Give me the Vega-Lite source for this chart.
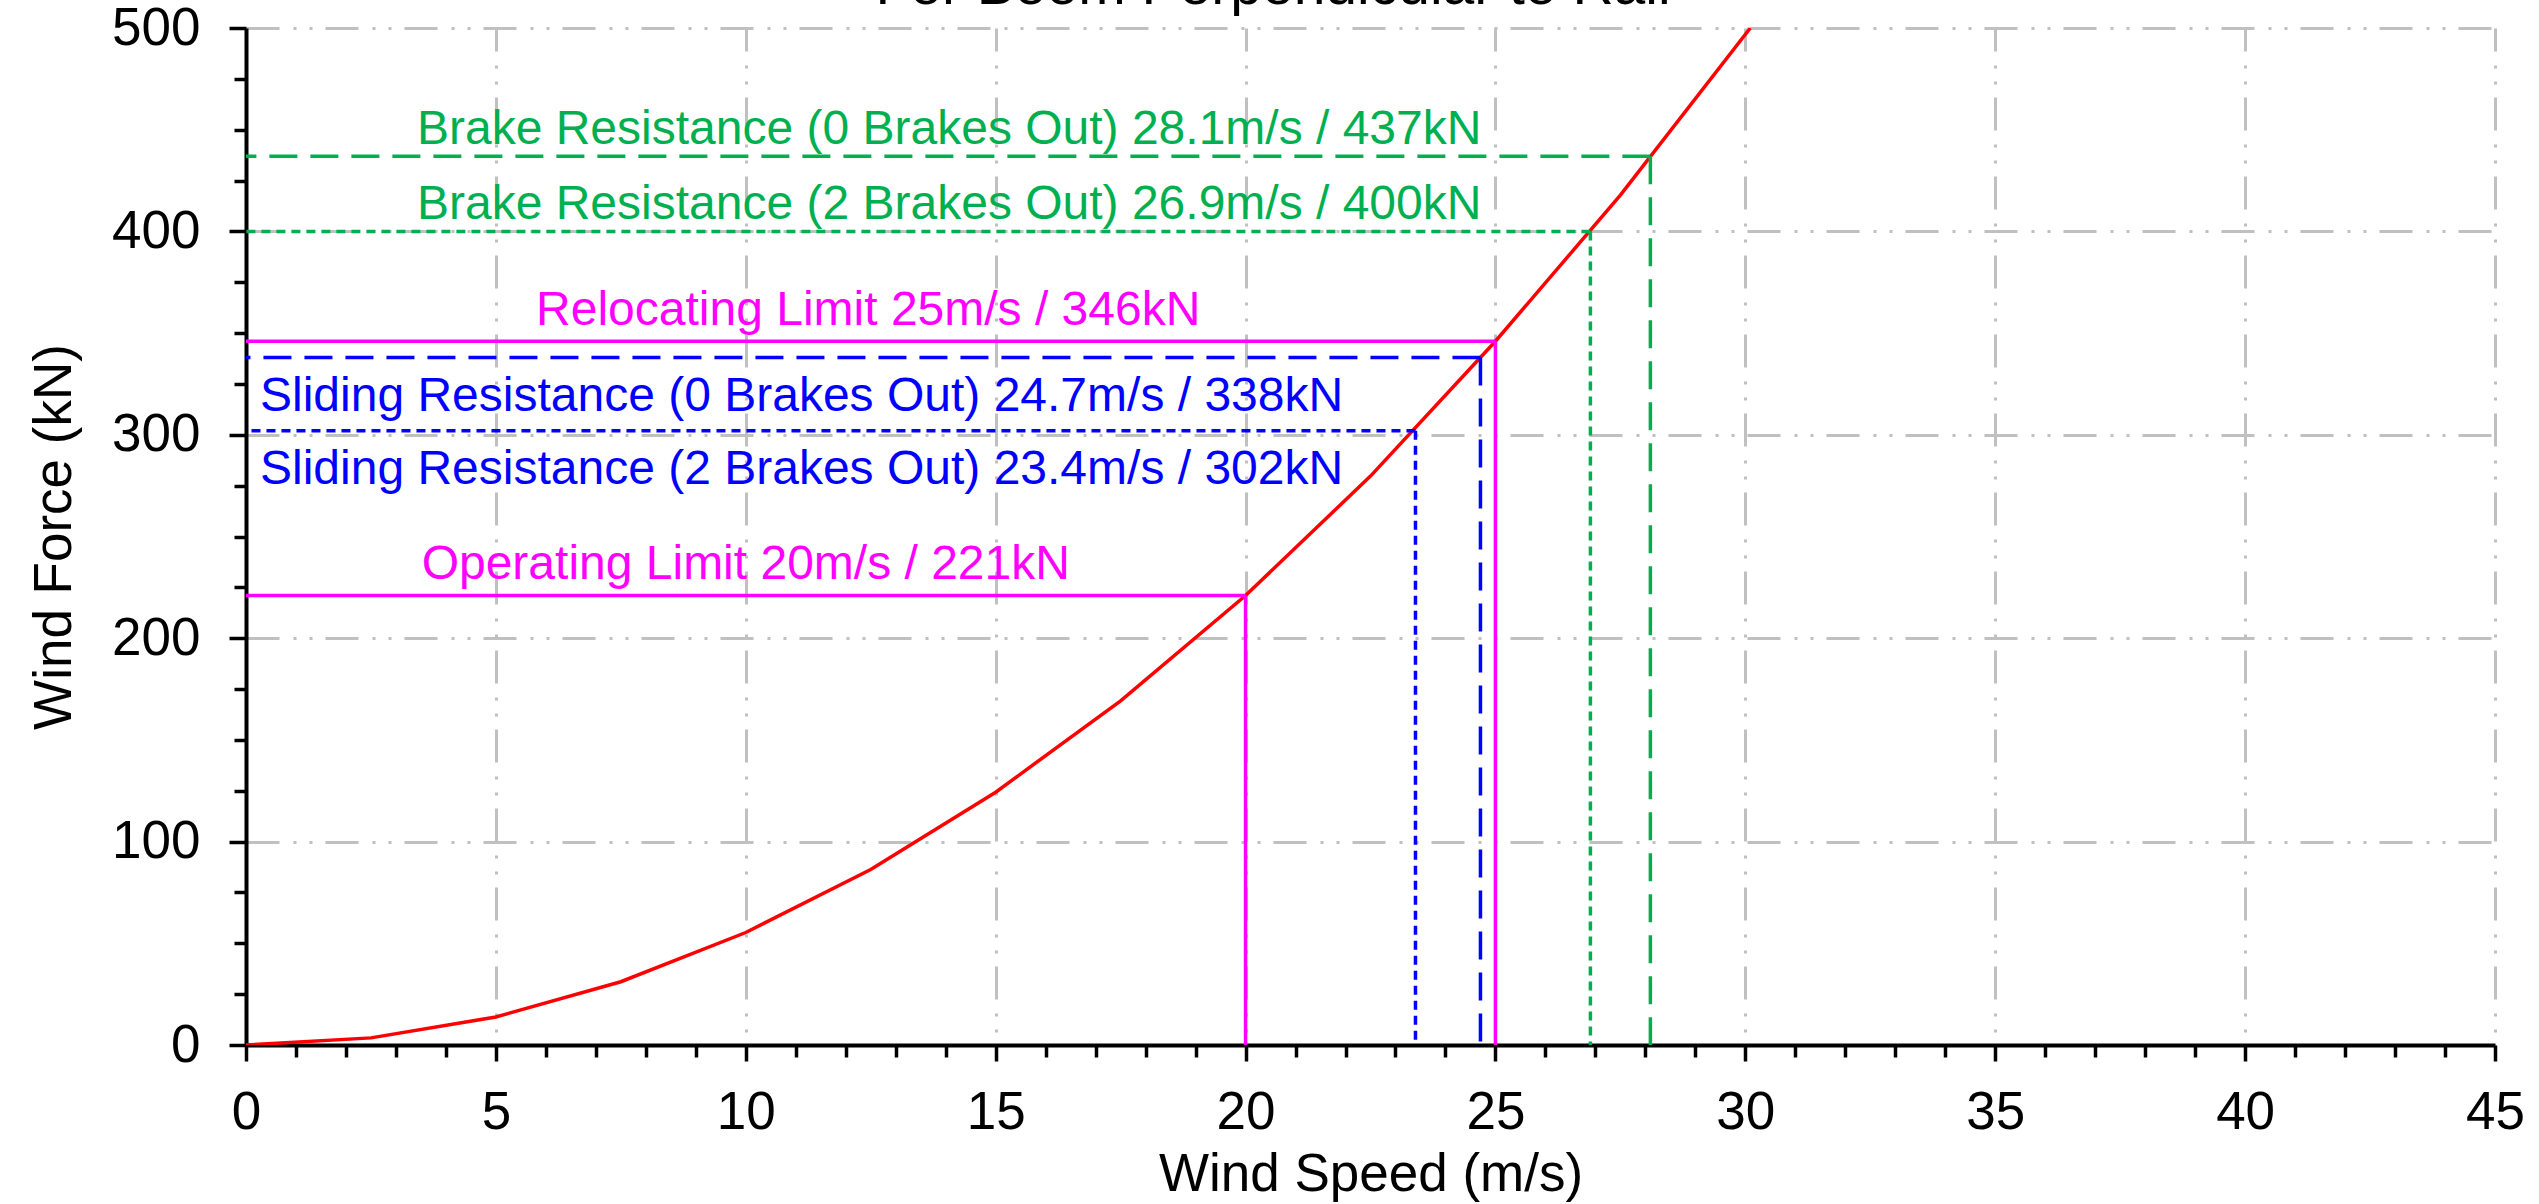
{
  "$schema": "https://vega.github.io/schema/vega-lite/v6.json",
  "width": 2249,
  "height": 1017,
  "autosize": {"type": "none"},
  "padding": {"left": 246, "top": 28, "right": 44, "bottom": 159},
  "background": "white",
  "config": {"view": {"stroke": null}, "font": "Liberation Sans"},
  "datasets": {
    "curve": [
      {"speed": 0, "force": 0}, {"speed": 2.5, "force": 3.5}, {"speed": 5, "force": 13.8},
      {"speed": 7.5, "force": 31.1}, {"speed": 10, "force": 55.3}, {"speed": 12.5, "force": 86.3},
      {"speed": 15, "force": 124.3}, {"speed": 17.5, "force": 169.2}, {"speed": 20, "force": 221},
      {"speed": 22.5, "force": 279.7}, {"speed": 25, "force": 346}, {"speed": 27.5, "force": 417.8},
      {"speed": 30.1, "force": 500}
    ],
    "refs": [
      {"kind": "Operating", "group": "Limit", "speed": 20, "force": 221, "label": "Operating Limit 20m/s / 221kN"},
      {"kind": "Relocating", "group": "Limit", "speed": 25, "force": 346, "label": "Relocating Limit 25m/s / 346kN"},
      {"kind": "Sliding0", "group": "Sliding", "speed": 24.7, "force": 338, "label": "Sliding Resistance (0 Brakes Out) 24.7m/s / 338kN"},
      {"kind": "Sliding2", "group": "Sliding", "speed": 23.4, "force": 302, "label": "Sliding Resistance (2 Brakes Out) 23.4m/s / 302kN"},
      {"kind": "Brake2", "group": "Brake", "speed": 26.9, "force": 400, "label": "Brake Resistance (2 Brakes Out) 26.9m/s / 400kN"},
      {"kind": "Brake0", "group": "Brake", "speed": 28.1, "force": 437, "label": "Brake Resistance (0 Brakes Out) 28.1m/s / 437kN"}
    ],
    "heading": [
      {"text": "For Boom Perpendicular to Rail"}
    ]
  },
  "layer": [
    {
      "data": {"name": "curve"},
      "mark": {"type": "line", "color": "#ff0000", "strokeWidth": 3.5, "clip": true},
      "encoding": {
        "x": {
          "field": "speed", "type": "quantitative",
          "scale": {"domain": [0, 45], "nice": false, "zero": true},
          "axis": {
            "title": "Wind Speed (m/s)",
            "values": [0,1,2,3,4,5,6,7,8,9,10,11,12,13,14,15,16,17,18,19,20,21,22,23,24,25,26,27,28,29,30,31,32,33,34,35,36,37,38,39,40,41,42,43,44,45],
            "labelExpr": "datum.value % 5 === 0 ? datum.label : ''",
            "labelOverlap": false, "labelFlush": false,
            "labelFont": "Liberation Sans", "labelFontSize": 53, "labelColor": "black", "labelPadding": 25,
            "tickColor": "black", "tickWidth": 3.5,
            "tickSize": {"condition": {"test": "datum.value % 5 === 0", "value": 16}, "value": 12},
            "domainColor": "black", "domainWidth": 4,
            "grid": true, "gridColor": "#c0c0c0", "gridWidth": 3, "gridDash": [33, 14, 3, 13, 3, 13], "gridDashOffset": 10,
            "gridOpacity": {"condition": {"test": "datum.value % 5 === 0", "value": 1}, "value": 0},
            "titleFont": "Liberation Sans", "titleFontSize": 53, "titleFontWeight": "normal", "titleColor": "black",
            "titleBaseline": "alphabetic", "titleY": 145
          }
        },
        "y": {
          "field": "force", "type": "quantitative",
          "scale": {"domain": [0, 500], "nice": false},
          "axis": {
            "title": "Wind Force (kN)",
            "values": [0,25,50,75,100,125,150,175,200,225,250,275,300,325,350,375,400,425,450,475,500],
            "labelExpr": "datum.value % 100 === 0 ? datum.label : ''",
            "labelOverlap": false, "labelFlush": false,
            "labelFont": "Liberation Sans", "labelFontSize": 53, "labelColor": "black", "labelPadding": 29,
            "tickColor": "black", "tickWidth": 3.5,
            "tickSize": {"condition": {"test": "datum.value % 100 === 0", "value": 17}, "value": 12},
            "domainColor": "black", "domainWidth": 4,
            "grid": true, "gridColor": "#c0c0c0", "gridWidth": 3, "gridDash": [33, 14, 3, 13, 3, 13],
            "gridOpacity": {"condition": {"test": "datum.value % 100 === 0", "value": 1}, "value": 0},
            "titleFont": "Liberation Sans", "titleFontSize": 53, "titleFontWeight": "normal", "titleColor": "black",
            "titleBaseline": "alphabetic", "titleX": -176
          }
        }
      }
    },
    {
      "data": {"name": "refs"},
      "mark": {"type": "rule", "strokeWidth": 3.5},
      "encoding": {
        "x": {"field": "speed", "type": "quantitative"},
        "x2": {"datum": 0},
        "y": {"field": "force", "type": "quantitative"},
        "color": {"field": "kind", "type": "nominal", "legend": null,
          "scale": {"domain": ["Operating", "Relocating", "Sliding0", "Sliding2", "Brake2", "Brake0"],
                    "range": ["#ff00ff", "#ff00ff", "#0000ff", "#0000ff", "#00b050", "#00b050"]}},
        "strokeDash": {"field": "kind", "type": "nominal", "legend": null,
          "scale": {"domain": ["Operating", "Relocating", "Sliding0", "Sliding2", "Brake2", "Brake0"],
                    "range": [[1, 0], [1, 0], [28, 13], [9, 6], [9, 6], [28, 13]]}}
      }
    },
    {
      "data": {"name": "refs"},
      "mark": {"type": "rule", "strokeWidth": 3.5},
      "encoding": {
        "x": {"field": "speed", "type": "quantitative"},
        "y": {"field": "force", "type": "quantitative"},
        "y2": {"datum": 0},
        "color": {"field": "kind", "type": "nominal", "legend": null},
        "strokeDash": {"field": "kind", "type": "nominal", "legend": null}
      }
    },
    {
      "data": {"name": "refs"},
      "transform": [{"filter": "datum.group === 'Brake'"}],
      "mark": {"type": "text", "align": "center", "baseline": "alphabetic", "dy": -12, "font": "Liberation Sans", "fontSize": 48},
      "encoding": {
        "x": {"datum": 14.07, "type": "quantitative"},
        "y": {"field": "force", "type": "quantitative"},
        "text": {"field": "label"},
        "color": {"field": "kind", "type": "nominal", "legend": null}
      }
    },
    {
      "data": {"name": "refs"},
      "transform": [{"filter": "datum.group === 'Sliding'"}],
      "mark": {"type": "text", "align": "left", "baseline": "alphabetic", "dy": 53, "font": "Liberation Sans", "fontSize": 48},
      "encoding": {
        "x": {"datum": 0.28, "type": "quantitative"},
        "y": {"field": "force", "type": "quantitative"},
        "text": {"field": "label"},
        "color": {"field": "kind", "type": "nominal", "legend": null}
      }
    },
    {
      "data": {"name": "refs"},
      "transform": [{"filter": "datum.kind === 'Operating'"}],
      "mark": {"type": "text", "align": "center", "baseline": "alphabetic", "dy": -16, "font": "Liberation Sans", "fontSize": 48},
      "encoding": {
        "x": {"datum": 10.0, "type": "quantitative"},
        "y": {"field": "force", "type": "quantitative"},
        "text": {"field": "label"},
        "color": {"field": "kind", "type": "nominal", "legend": null}
      }
    },
    {
      "data": {"name": "refs"},
      "transform": [{"filter": "datum.kind === 'Relocating'"}],
      "mark": {"type": "text", "align": "center", "baseline": "alphabetic", "dy": -16, "font": "Liberation Sans", "fontSize": 48},
      "encoding": {
        "x": {"datum": 12.45, "type": "quantitative"},
        "y": {"field": "force", "type": "quantitative"},
        "text": {"field": "label"},
        "color": {"field": "kind", "type": "nominal", "legend": null}
      }
    },
    {
      "data": {"name": "heading"},
      "mark": {"type": "text", "align": "center", "baseline": "alphabetic", "dy": -24, "font": "Liberation Sans", "fontSize": 57, "color": "black"},
      "encoding": {
        "x": {"datum": 20.55, "type": "quantitative"},
        "y": {"datum": 500, "type": "quantitative"},
        "text": {"field": "text"}
      }
    }
  ]
}
